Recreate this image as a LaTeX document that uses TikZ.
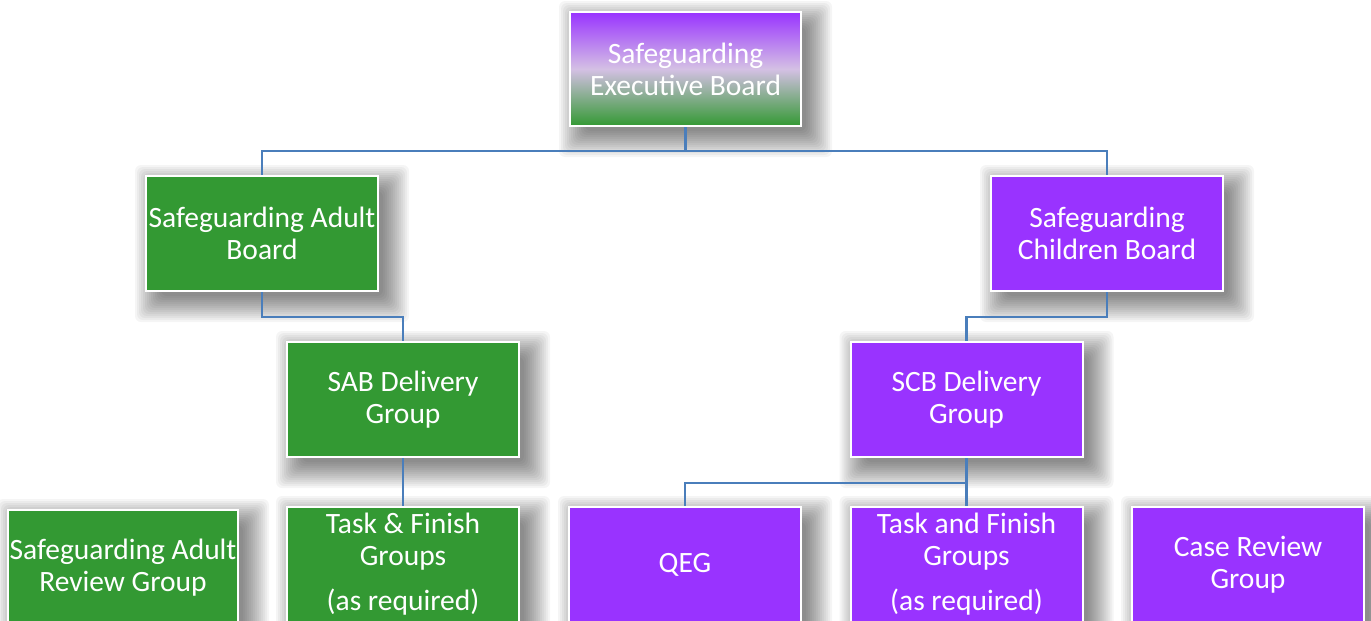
\documentclass[tikz,border=0pt]{standalone}
\usepackage{fontspec}
\setmainfont{Carlito}
\usetikzlibrary{backgrounds}
\definecolor{grn}{RGB}{51,153,51}
\definecolor{purp}{RGB}{153,51,255}
\definecolor{conn}{RGB}{74,126,187}
\definecolor{midc}{RGB}{212,192,228}
\begin{document}
\begin{tikzpicture}[x=1pt,y=-1pt,
  box/.style={draw=white, line width=2pt, text=white, align=center,
    minimum width=232pt, minimum height=115pt, inner sep=0pt,
    font=\fontsize{29.5}{32}\selectfont},
  gbox/.style={box, fill=grn},
  pbox/.style={box, fill=purp},
  shadowlayer/.style={fill=black, opacity=0.04, rounded corners=6pt},
  link/.style={draw=conn, line width=2.5pt}]
\clip (0,0) rectangle (1371,621);
\useasboundingbox (0,0) rectangle (1371,621);

\node[box, minimum width=231pt, minimum height=114pt, top color=purp, bottom color=grn, middle color=midc] (exec) at (685.5,69) {Safeguarding\\Executive Board};
\node[gbox] (sab) at (262,233.5) {Safeguarding Adult\\Board};
\node[pbox] (scb) at (1107,233.5) {Safeguarding\\Children Board};
\node[gbox] (sabd) at (403,399.5) {SAB Delivery\\Group};
\node[pbox] (scbd) at (966.5,399.5) {SCB Delivery\\Group};
\node[gbox, minimum width=230pt] (sarg) at (123,567.5) {Safeguarding Adult\\Review Group};
\node[gbox] (tfa) at (403,564.5) {Task \& Finish\\Groups\\[13pt](as required)};
\node[pbox] (qeg) at (685,564.5) {QEG};
\node[pbox] (tfc) at (966.5,564.5) {Task and Finish\\Groups\\[13pt](as required)};
\node[pbox] (crg) at (1248,564.5) {Case Review\\Group};

\begin{scope}[on background layer]
  \fill[white] (0,0) rectangle (1371,621);
  \clip (0,0) rectangle (1371,621);
  \foreach \n in {exec,sab,scb,sabd,scbd,sarg,tfa,qeg,tfc,crg}{
    \foreach \r in {-6,-4,...,20}{
      \fill[shadowlayer] ([shift={(-\r+10,-\r+10)}]\n.north west) rectangle ([shift={(\r+10,\r+10)}]\n.south east);
    }
  }
\end{scope}

\draw[link] (exec.south) -- ++(0,24) -| (sab.north);
\draw[link] (exec.south) -- ++(0,24) -| (scb.north);
\draw[link] (sab.south) -- ++(0,25) -| (sabd.north);
\draw[link] (scb.south) -- ++(0,25) -| (scbd.north);
\draw[link] (sabd.south) -- (tfa.north);
\draw[link] (scbd.south) -- ++(0,25) -| (qeg.north);
\draw[link] (scbd.south) -- (tfc.north);
\end{tikzpicture}
\end{document}
